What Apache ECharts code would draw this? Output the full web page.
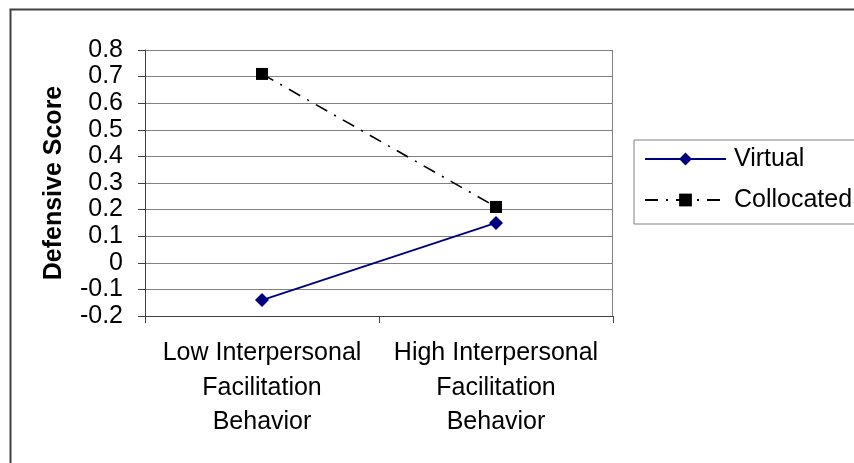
<!DOCTYPE html>
<html>
<head>
<meta charset="utf-8">
<script src="https://cdn.jsdelivr.net/npm/echarts@6/dist/echarts.min.js"></script>
<style>
html,body{margin:0;padding:0;background:#fff;}
#c{width:854px;height:463px;}
</style>
</head>
<body>
<div id="c"></div>
<script>
const categories = ['Low Interpersonal\nFacilitation\nBehavior', 'High Interpersonal\nFacilitation\nBehavior'];
const virtualValues = [-0.14, 0.15];
const collocatedValues = [0.71, 0.21];
const yAxisTitle = 'Defensive Score';
const seriesNames = ['Virtual', 'Collocated'];

const FONT = "'Liberation Sans', Arial, sans-serif";
const chart = echarts.init(document.getElementById('c'), null, {renderer: 'canvas'});
chart.setOption({
  animation: false,
  backgroundColor: '#fff',
  graphic: [{
    type: 'rect', left: 8, top: 7, z: -1,
    shape: {width: 900, height: 500},
    style: {fill: 'none', stroke: '#404040', lineWidth: 2}
  }, {
    type: 'line', z: 1,
    shape: {x1: 612.5, y1: 50, x2: 612.5, y2: 316},
    style: {stroke: '#808080', lineWidth: 1}
  }],
  grid: {left: 145, top: 50, right: 241, bottom: 147, containLabel: false},
  legend: {
    orient: 'vertical',
    left: 634, top: 140,
    padding: [6, 30, 11, 10],
    itemWidth: 81, itemHeight: 16, itemGap: 15,
    borderColor: '#808080', borderWidth: 1,
    textStyle: {fontFamily: FONT, fontSize: 25, color: '#000', lineHeight: 26, padding: [0, 0, 0, 3]},
    data: seriesNames
  },
  xAxis: {
    type: 'category',
    data: categories,
    boundaryGap: true,
    axisLine: {onZero: false, lineStyle: {color: '#404040', width: 1}},
    axisTick: {show: true, length: 7, lineStyle: {color: '#404040'}},
    axisLabel: {fontFamily: FONT, fontSize: 25, color: '#000', lineHeight: 34.5, margin: 20, interval: 0}
  },
  yAxis: {
    type: 'value',
    min: -0.2, max: 0.8, interval: 0.1,
    name: yAxisTitle,
    nameLocation: 'middle',
    nameGap: 78,
    nameTextStyle: {fontFamily: FONT, fontSize: 25, fontWeight: 'bold', color: '#000'},
    axisLine: {show: true, lineStyle: {color: '#404040', width: 1}},
    axisTick: {show: true, length: 7, lineStyle: {color: '#404040'}},
    axisLabel: {fontFamily: FONT, fontSize: 25, color: '#000', margin: 22,
      formatter: v => String(+v.toFixed(1))},
    splitLine: {show: true, lineStyle: {color: '#808080', width: 1}}
  },
  series: [{
    name: seriesNames[0], type: 'line', data: virtualValues,
    symbol: 'diamond', symbolSize: 14,
    itemStyle: {color: '#000080'},
    lineStyle: {color: '#000080', width: 1.8}
  }, {
    name: seriesNames[1], type: 'line', data: collocatedValues,
    symbol: 'rect', symbolSize: 12,
    itemStyle: {color: '#000'},
    lineStyle: {color: '#000', width: 1.6, type: [13, 8, 2, 8]}
  }]
});
</script>
</body>
</html>
